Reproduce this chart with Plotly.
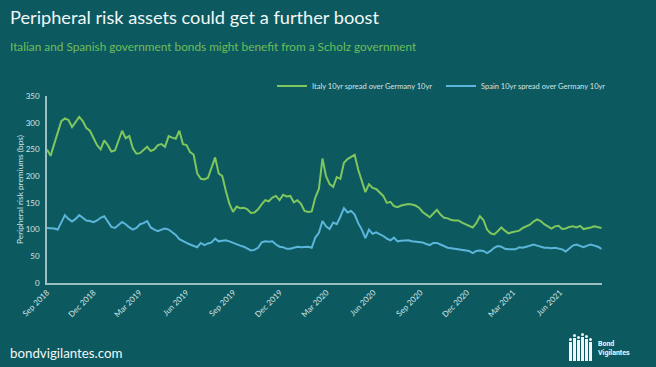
import pandas as pd
import plotly.graph_objects as go

# ---- data (weekly) ----
start_date = "2018-09-01"
italy_spread = [
    250, 238, 260, 283, 303, 308, 305, 292, 302, 311, 303, 290, 285, 272, 258, 250,
    267, 258, 246, 248, 265, 285, 271, 275, 252, 242, 243, 250, 255, 247, 250, 258,
    260, 255, 275, 272, 270, 285, 260, 258, 245, 240, 205, 195, 194, 197, 215, 235,
    205, 200, 172, 148, 133, 143, 140, 141, 138, 131, 132, 138, 147, 155, 153, 160,
    163, 155, 165, 162, 163, 151, 155, 148, 135, 133, 134, 160, 176, 233, 200, 185,
    180, 198, 195, 225, 232, 236, 240, 212, 190, 170, 185, 178, 176, 170, 163, 150,
    152, 144, 142, 145, 147, 148, 147, 145, 141, 133, 128, 123, 130, 137, 128, 122,
    121, 118, 117, 117, 113, 110, 108, 104, 112, 125, 118, 100, 93, 91, 97, 104,
    98, 93, 95, 97, 98, 103, 106, 109, 115, 119, 116, 110, 106, 102, 106, 107,
    101, 102, 105, 106, 104, 107, 101, 102, 104, 106, 105, 103,
]
spain_spread = [
    103, 103, 102, 100, 115, 127, 120, 115, 120, 127, 122, 117, 116, 114, 117, 122,
    125, 115, 105, 103, 108, 114, 110, 104, 100, 103, 110, 112, 116, 104, 100, 97,
    100, 102, 100, 95, 90, 82, 78, 75, 72, 70, 67, 75, 71, 74, 76, 83,
    78, 79, 80, 78, 75, 72, 70, 68, 64, 61, 62, 66, 76, 78, 77, 78,
    72, 68, 67, 64, 64, 66, 68, 67, 67, 68, 66, 85, 94, 116, 106, 101,
    113, 110, 124, 140, 132, 135, 128, 112, 100, 84, 100, 92, 95, 92, 88, 83,
    80, 85, 78, 79, 80, 80, 78, 77, 76, 76, 73, 71, 75, 75, 72, 69,
    66, 65, 64, 64, 63, 62, 60, 56, 60, 61, 60, 56, 60, 66, 69, 68,
    64, 63, 63, 63, 67, 66, 68, 70, 72, 70, 68, 66, 66, 65, 66, 64,
    63, 59, 64, 70, 72, 69, 67, 70, 72, 70, 68, 64,
]
dates = pd.date_range(start_date, periods=len(italy_spread), freq="7D")

tick_dates = ["2018-09-01", "2018-12-01", "2019-03-01", "2019-06-01", "2019-09-01",
              "2019-12-01", "2020-03-01", "2020-06-01", "2020-09-01", "2020-12-01",
              "2021-03-01", "2021-06-01"]
tick_labels = ["Sep 2018", "Dec 2018", "Mar 2019", "Jun 2019", "Sep 2019", "Dec 2019",
               "Mar 2020", "Jun 2020", "Sep 2020", "Dec 2020", "Mar 2021", "Jun 2021"]
series_names = ["Italy 10yr spread over Germany 10yr", "Spain 10yr spread over Germany 10yr"]

BG = "#0C5A60"
GREEN = "#7FC65E"
BLUE = "#5CB5DA"
AXIS = "#9CC0C2"
TXT = "#D5E2E2"
FONT = "Lato"
W, H = 656, 367

fig = go.Figure()
fig.add_trace(go.Scatter(x=dates, y=italy_spread, mode="lines", name=series_names[0],
                         line=dict(color=GREEN, width=2)))
fig.add_trace(go.Scatter(x=dates, y=spain_spread, mode="lines", name=series_names[1],
                         line=dict(color=BLUE, width=2)))

fig.update_layout(
    width=W, height=H,
    margin=dict(l=47, r=54, t=96, b=84, autoexpand=False),
    paper_bgcolor=BG, plot_bgcolor=BG,
    font=dict(family=FONT, color=TXT, size=8),
    showlegend=True,
    legend=dict(orientation="h", xref="container", yref="container",
                x=272/W, xanchor="left", y=1 - 86/H, yanchor="middle",
                font=dict(size=7.5, color=TXT), bgcolor="rgba(0,0,0,0)",
                entrywidth=124, entrywidthmode="pixels",
                itemwidth=30, tracegroupgap=0),
)
fig.update_xaxes(
    type="date", range=["2018-09-01", "2021-08-22"], automargin=False,
    tickvals=tick_dates, ticktext=tick_labels, tickangle=-45,
    showline=True, linecolor=AXIS, linewidth=1.5, showgrid=False, zeroline=False,
    ticks="", tickfont=dict(size=8, color=TXT),
)
fig.update_yaxes(
    range=[0, 350], dtick=50, automargin=False, showline=True, linecolor=AXIS, linewidth=1.5,
    showgrid=False, zeroline=False, ticks="", tickfont=dict(size=8, color=TXT),
    ticklabelstandoff=4,
    title=dict(text="Peripheral risk premiums (bps)", font=dict(size=8.3, color=TXT), standoff=1),
)

fig.add_annotation(text="Peripheral risk assets could get a further boost", xref="paper", yref="paper",
                   x=(8-47)/555, y=(283-17)/187, xanchor="left", yanchor="middle", showarrow=False,
                   font=dict(size=18.2, color="#F2F6F6", family=FONT))
fig.add_annotation(text="Italian and Spanish government bonds might benefit from a Scholz government",
                   xref="paper", yref="paper", x=(8-47)/555, y=(283-46)/187, xanchor="left",
                   yanchor="middle", showarrow=False, font=dict(size=11.8, color="#6DBE5A", family=FONT))
fig.add_annotation(text="bondvigilantes.com", xref="paper", yref="paper", x=(8-47)/555, y=-(353-283)/187,
                   xanchor="left", yanchor="middle", showarrow=False,
                   font=dict(size=13.3, color="#F2F6F6", family=FONT))
fig.add_annotation(text="<b>Bond<br>Vigilantes</b>", xref="paper", yref="paper", x=(596-47)/555,
                   y=-(348-283)/187, xanchor="left", yanchor="middle", showarrow=False, align="left",
                   font=dict(size=7, color="#F2F6F6", family="Roboto"))
# simple logo figures
for dx, h in [(0, 19), (4, 23), (8, 21), (12, 24), (16, 22), (20, 19)]:
    x0 = 569 + dx
    fig.add_shape(type="rect", xref="paper", yref="paper",
                  x0=(x0-47)/555, x1=(x0+3-47)/555,
                  y0=(283-361)/187, y1=(283-(361-h))/187,
                  fillcolor="#F2F6F6", line=dict(width=0), layer="above")
    fig.add_shape(type="circle", xref="paper", yref="paper",
                  x0=(x0-47)/555, x1=(x0+3-47)/555,
                  y0=(283-(361-h-1))/187, y1=(283-(361-h-4))/187,
                  fillcolor="#F2F6F6", line=dict(width=0), layer="above")

fig.write_html("out.html", config={"displayModeBar": False},
               post_script="document.body.style.margin='0';")
